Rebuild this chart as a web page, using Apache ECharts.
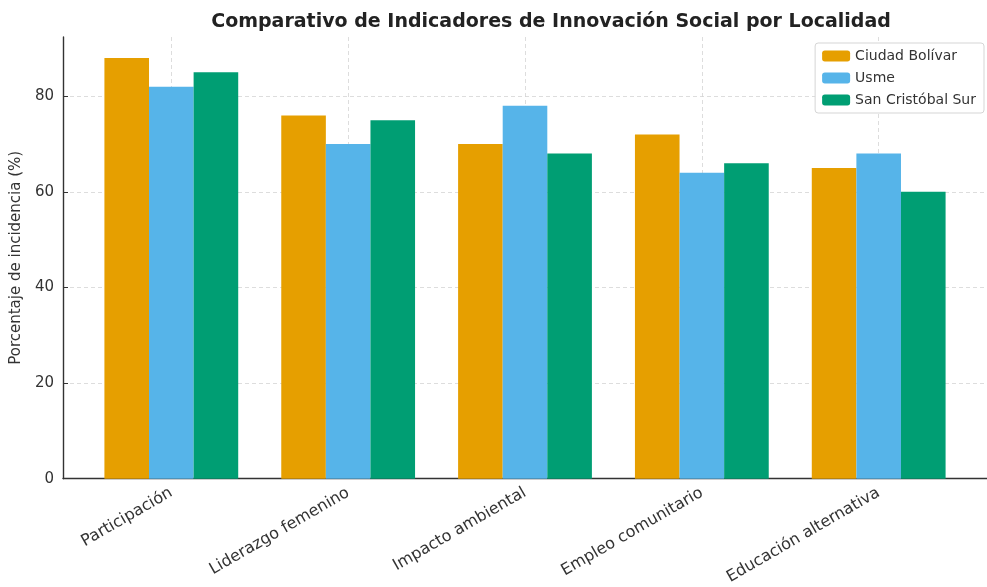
<!DOCTYPE html>
<html>
<head>
<meta charset="UTF-8">
<title>Comparativo de Indicadores</title>
<script src="https://cdn.jsdelivr.net/npm/echarts@6/dist/echarts.min.js"></script>
<style>
  html, body { margin: 0; padding: 0; background: #fff; }
  #chart { width: 987px; height: 587px; }
</style>
</head>
<body>
<div id="chart"></div>
<script>
// datos
var categorias = ["Participación", "Liderazgo femenino", "Impacto ambiental", "Empleo comunitario", "Educación alternativa"];
var ciudadBolivar = [88, 76, 70, 72, 65];
var usme = [82, 70, 78, 64, 68];
var sanCristobal = [85, 75, 68, 66, 60];
var yTicks = [0, 20, 40, 60, 80];
var xTicks = [0, 1, 2, 3, 4];

var nombres = ["Ciudad Bolívar", "Usme", "San Cristóbal Sur"];
var colores = ["#E69F00", "#56B4E9", "#009E73"];
var valores = [ciudadBolivar, usme, sanCristobal];

var chart = echarts.init(document.getElementById("chart"));

var series = [];
for (var s = 0; s < valores.length; s++) {
    var pts = [];
    for (var i = 0; i < valores[s].length; i++) {
        pts.push([i, valores[s][i]]);
    }
    series.push({
        name: nombres[s],
        type: "bar",
        data: pts,
        barWidth: 44.6,
        barGap: "0%",
        itemStyle: { color: colores[s] },
        emphasis: { disabled: true }
    });
}

var gridStyle = { show: true, lineStyle: { color: "#d4d4d4", type: [4, 3], width: 0.8 } };

var option = {
    animation: false,
    textStyle: { fontFamily: "DejaVu Sans" },
    title: {
        text: "Comparativo de Indicadores de Innovación Social por Localidad",
        left: 546,
        top: 8,
        textAlign: "center",
        textStyle: { fontSize: 19, fontWeight: "bold", color: "#222", fontFamily: "DejaVu Sans" }
    },
    legend: {
        orient: "vertical",
        right: 3,
        top: 43,
        itemWidth: 28,
        itemHeight: 11,
        itemGap: 8,
        padding: [6, 8, 6, 7],
        borderColor: "#d5d5d5",
        borderWidth: 1,
        borderRadius: 3,
        backgroundColor: "#fff",
        textStyle: { fontSize: 14, color: "#333" },
        data: nombres
    },
    grid: { left: 63, right: -8, top: 37, bottom: 107 },
    xAxis: {
        type: "value",
        min: -0.6125,
        max: 4.6125,
        axisLine: { show: true, onZero: false, lineStyle: { color: "#333", width: 1.4 } },
        axisTick: { show: true, inside: true, length: 5, customValues: xTicks, lineStyle: { color: "#333" } },
        axisLabel: {
            customValues: xTicks,
            rotate: 30,
            fontSize: 16,
            color: "#333",
            margin: 13,
            formatter: function (v) { return categorias[Math.round(v)]; }
        },
        splitLine: gridStyle
    },
    yAxis: {
        type: "value",
        min: 0,
        max: 92.4,
        name: "Porcentaje de incidencia (%)",
        nameLocation: "middle",
        nameGap: 39,
        nameTextStyle: { fontSize: 15, color: "#333" },
        axisLine: { show: true, onZero: false, lineStyle: { color: "#333", width: 1.4 } },
        axisTick: { show: true, inside: true, length: 5, customValues: yTicks, lineStyle: { color: "#333" } },
        axisLabel: { customValues: yTicks, fontSize: 15, color: "#333", margin: 9 },
        splitLine: gridStyle
    },
    series: series
};

chart.setOption(option);
</script>
</body>
</html>
